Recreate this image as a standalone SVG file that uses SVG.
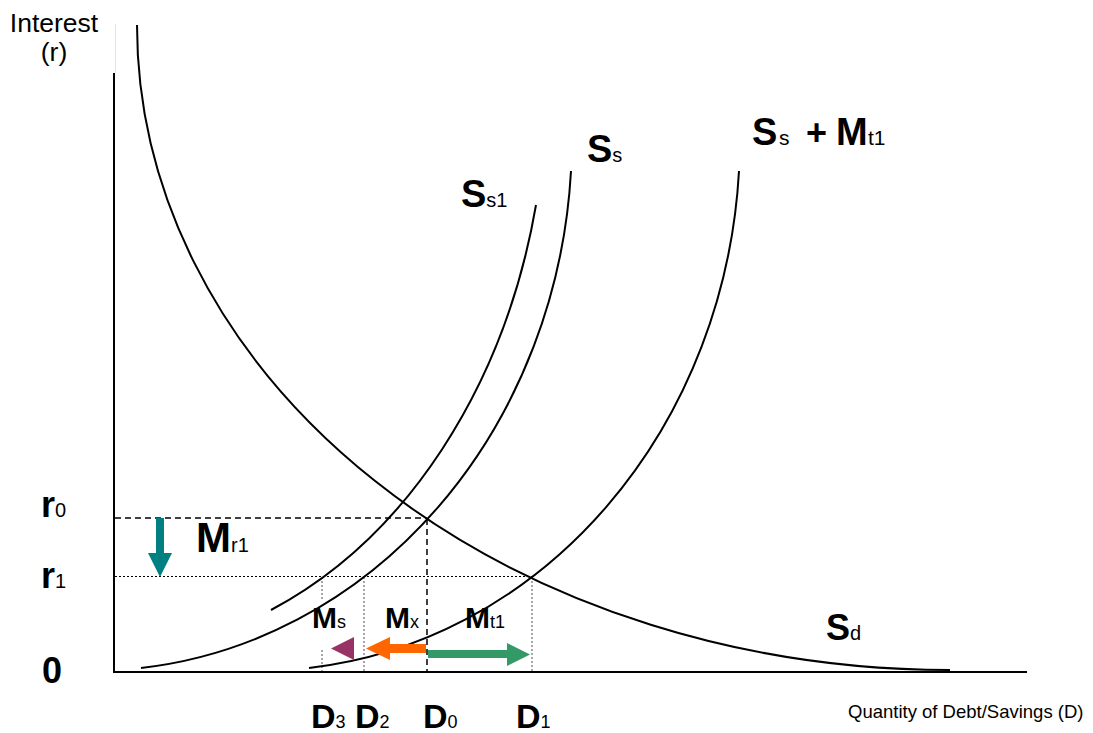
<svg xmlns="http://www.w3.org/2000/svg" width="1093" height="733" viewBox="0 0 1093 733">
<style>
.t{font-family:"Liberation Sans",Arial,sans-serif;fill:#000}
.b{font-weight:bold}
.n{font-weight:normal}
.curve{fill:none;stroke:#000;stroke-width:2}
.axis{fill:none;stroke:#000;stroke-width:2}
.dash{fill:none;stroke:#000;stroke-width:1.5;stroke-dasharray:6 4}
.dot{fill:none;stroke:#000;stroke-width:1;stroke-dasharray:2 2}
.gdot{fill:none;stroke:#777;stroke-width:1.3;stroke-dasharray:2 2}
</style>
<rect width="1093" height="733" fill="#fff"/>
<g id="axes">
<line x1="115.5" y1="24" x2="115.5" y2="73" stroke="#e6e6e6" stroke-width="1"/>
<line class="axis" x1="114" y1="73" x2="114" y2="673"/>
<line class="axis" x1="113" y1="672" x2="1027" y2="672"/>
<text class="t" x="54" y="32" font-size="26.5" text-anchor="middle">Interest</text>
<text class="t" x="54" y="61" font-size="26.5" text-anchor="middle">(r)</text>
<text class="t" x="848" y="718" font-size="18.5">Quantity of Debt/Savings (D)</text>
</g>
<g id="guides">
<line class="dash" x1="115" y1="518" x2="427" y2="518"/>
<line class="dash" x1="427" y1="519" x2="427" y2="671" stroke-width="2"/>
<line class="dot" x1="115" y1="576.5" x2="532" y2="576.5"/>
<line class="gdot" x1="322" y1="577" x2="322" y2="600"/>
<line class="gdot" x1="322" y1="650" x2="322" y2="671"/>
<line class="gdot" x1="364" y1="577" x2="364" y2="671"/>
<line class="gdot" x1="532" y1="577" x2="532" y2="671"/>
</g>
<g id="connectors">
<path id="Sd-curve" class="curve" d="M137,25 A813,645 0 0 0 950,670"/>
<path id="Ss-curve" class="curve" d="M141,668 A479.8,532.7 0 0 0 571,171"/>
<path id="SsMt1-curve" class="curve" d="M309,668 A479.8,532.7 0 0 0 739,171"/>
<path id="Ss1-curve" class="curve" d="M271,610 A445.5,572.1 0 0 0 536,205"/>
</g>
<g id="arrow-Mr1">
<rect x="156" y="518" width="8" height="35" fill="#008080"/>
<polygon points="148,553 172,553 160,577" fill="#008080"/>
</g>
<g id="arrow-Ms">
<polygon points="331,648.5 354,637 354,660" fill="#993366"/>
</g>
<g id="arrow-Mx">
<rect x="389" y="644" width="37" height="9" fill="#FF6600"/>
<polygon points="366,648.5 390,637 390,660" fill="#FF6600"/>
</g>
<g id="arrow-Mt1">
<rect x="428" y="650" width="80" height="8" fill="#339966"/>
<polygon points="507,643 507,666 530,654.5" fill="#339966"/>
</g>
<g id="labels">
<text class="t b" x="41" y="517" font-size="36">r<tspan class="n" font-size="20">0</tspan></text>
<text class="t b" x="41" y="588" font-size="36">r<tspan class="n" font-size="20">1</tspan></text>
<text class="t b" x="42" y="683" font-size="36">0</text>
<text class="t b" x="196" y="552" font-size="42">M<tspan class="n" font-size="20">r1</tspan></text>
<text class="t b" x="461" y="207" font-size="38">S<tspan class="n" font-size="20">s1</tspan></text>
<text class="t b" x="587" y="162" font-size="38">S<tspan class="n" font-size="20">s</tspan></text>
<text class="t b" y="145" font-size="38"><tspan x="752">S</tspan><tspan class="n" x="779" font-size="21">s</tspan><tspan x="806" font-size="36">+</tspan><tspan x="836">M</tspan><tspan class="n" x="868" font-size="21">t1</tspan></text>
<text class="t b" x="826" y="640" font-size="36">S<tspan class="n" font-size="20">d</tspan></text>
<text class="t b" x="312" y="628" font-size="30">M<tspan class="n" font-size="18">s</tspan></text>
<text class="t b" x="385" y="628" font-size="30">M<tspan class="n" font-size="18">x</tspan></text>
<text class="t b" x="465" y="628" font-size="30">M<tspan class="n" font-size="18">t1</tspan></text>
<text class="t b" x="311" y="728" font-size="34">D<tspan class="n" font-size="18">3</tspan></text>
<text class="t b" x="355" y="728" font-size="34">D<tspan class="n" font-size="18">2</tspan></text>
<text class="t b" x="423" y="728" font-size="34">D<tspan class="n" font-size="18">0</tspan></text>
<text class="t b" x="516" y="728" font-size="34">D<tspan class="n" font-size="18">1</tspan></text>
</g>
</svg>
